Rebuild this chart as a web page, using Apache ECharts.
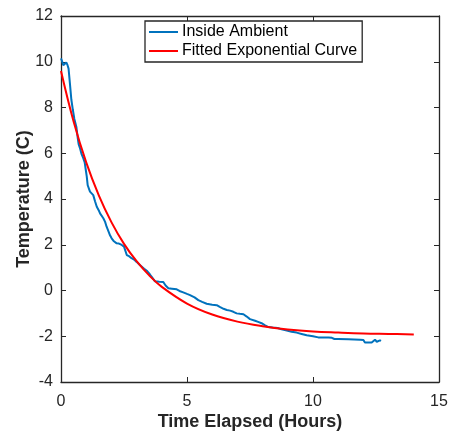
<!DOCTYPE html>
<html><head><meta charset="utf-8">
<script src="https://cdn.jsdelivr.net/npm/echarts@6/dist/echarts.min.js"></script>
<style>html,body{margin:0;padding:0;background:#fff}#c{width:455px;height:433px}</style>
</head><body><div id="c"></div>
<script>
const seriesNames = ['Inside Ambient', 'Fitted Exponential Curve'];
const xTicks = [0, 5, 10, 15];
const yTicks = [-4, -2, 0, 2, 4, 6, 8, 10, 12];
// Inside Ambient: [hours, temperature C]
const insideAmbient = [
[0,10.15],[0.05,10.0],[0.09,9.85],[0.15,9.92],[0.21,9.97],[0.26,9.85],[0.3,9.7],[0.35,9.1],[0.41,8.35],[0.47,7.9],
[0.53,7.5],[0.61,7.15],[0.66,6.7],[0.7,6.4],[0.76,6.2],[0.82,5.95],[0.88,5.8],[0.94,5.6],[0.98,5.3],[1.02,5.0],
[1.06,4.6],[1.15,4.32],[1.22,4.25],[1.28,4.17],[1.35,3.9],[1.42,3.66],[1.5,3.5],[1.55,3.37],[1.62,3.3],[1.68,3.16],
[1.75,3.0],[1.81,2.79],[1.88,2.6],[1.95,2.4],[2.01,2.28],[2.1,2.15],[2.21,2.06],[2.3,2.05],[2.41,1.99],[2.5,1.92],
[2.54,1.84],[2.61,1.55],[2.7,1.5],[2.8,1.41],[2.9,1.35],[3.0,1.25],[3.14,1.1],[3.3,0.95],[3.42,0.85],[3.53,0.7],
[3.6,0.6],[3.73,0.4],[3.9,0.38],[4.06,0.37],[4.15,0.22],[4.26,0.1],[4.4,0.08],[4.59,0.05],[4.7,-0.02],[4.85,-0.08],
[5.0,-0.15],[5.12,-0.2],[5.3,-0.3],[5.45,-0.42],[5.6,-0.5],[5.78,-0.58],[6.0,-0.62],[6.18,-0.64],[6.3,-0.72],[6.45,-0.8],
[6.58,-0.85],[6.71,-0.88],[6.84,-0.93],[6.97,-1.0],[7.1,-1.02],[7.24,-1.04],[7.3,-1.0],[7.37,-1.14],[7.5,-1.25],[7.7,-1.32],
[7.85,-1.38],[7.96,-1.43],[8.1,-1.52],[8.23,-1.6],[8.4,-1.62],[8.6,-1.64],[8.75,-1.7],[8.96,-1.75],[9.15,-1.8],[9.35,-1.84],
[9.55,-1.9],[9.75,-1.96],[10.0,-2.0],[10.21,-2.05],[10.45,-2.06],[10.61,-2.05],[10.67,-2.13],[10.75,-2.07],[10.85,-2.12],[11.0,-2.12],
[11.4,-2.13],[11.87,-2.15],[12.0,-2.16],[12.06,-2.27],[12.2,-2.27],[12.33,-2.27],[12.4,-2.2],[12.46,-2.15],[12.53,-2.24],[12.6,-2.2],
[12.66,-2.18],[12.7,-2.2]
];
// Fitted curve
const fitX = [0,0.5,1,1.5,2,2.5,3,3.5,4,5,6,7,8,9,10,11,12,13,14];
const fitY = [9.6,7.39,5.6,4.16,2.99,2.04,1.28,0.66,0.16,-0.57,-1.05,-1.36,-1.56,-1.7,-1.79,-1.84,-1.88,-1.9,-1.92];

const FONT = '"Liberation Sans", Arial, sans-serif';
const AX = '#262626';
const fitData = fitX.map((x, i) => [x, fitY[i]]);

const baseAxis = {
  axisLine: { show: true, onZero: false, lineStyle: { color: AX, width: 1.3 } },
  axisTick: { show: true, inside: true, length: 5, lineStyle: { color: AX, width: 1 } },
  splitLine: { show: false },
  axisLabel: { color: AX, fontSize: 16, fontFamily: FONT, margin: 9 },
};
const chart = echarts.init(document.getElementById('c'), null, { renderer: 'canvas' });
chart.setOption({
  animation: false,
  backgroundColor: '#fff',
  grid: { left: 61, right: 16, top: 16, bottom: 51, containLabel: false, outerBoundsMode: 'none' },
  legend: {
    left: 145, top: 21, orient: 'vertical',
    data: seriesNames,
    icon: 'rect', itemWidth: 29, itemHeight: 2, itemGap: 3,
    padding: [3, 5, 3, 4],
    borderColor: AX, borderWidth: 1.3, backgroundColor: '#fff',
    textStyle: { fontSize: 16, fontFamily: FONT, color: '#000', padding: [0, 0, 0, -1] },
  },
  xAxis: [
    Object.assign({}, baseAxis, {
      type: 'value', min: 0, max: 15, interval: 5,
      name: 'Time Elapsed (Hours)', nameLocation: 'middle', nameGap: 31, nameMoveOverlap: false,
      nameTextStyle: { fontSize: 18, fontWeight: 'bold', fontFamily: FONT, color: AX },
      axisLabel: Object.assign({}, baseAxis.axisLabel, { margin: 12, formatter: v => xTicks.includes(v) ? String(v) : '' })
    }),
    Object.assign({}, baseAxis, {
      type: 'value', min: 0, max: 15, interval: 5, position: 'top',
      axisLabel: { show: false }
    })
  ],
  yAxis: [
    Object.assign({}, baseAxis, {
      type: 'value', min: -4, max: 12, interval: 2,
      name: 'Temperature (C)', nameLocation: 'middle', nameGap: 28, nameMoveOverlap: false,
      nameTextStyle: { fontSize: 18, fontWeight: 'bold', fontFamily: FONT, color: AX },
      axisLabel: Object.assign({}, baseAxis.axisLabel, { margin: 8, formatter: v => yTicks.includes(v) ? String(v) : '' })
    }),
    Object.assign({}, baseAxis, {
      type: 'value', min: -4, max: 12, interval: 2, position: 'right',
      axisLabel: { show: false }
    })
  ],
  series: [
    { name: seriesNames[0], type: 'line', data: insideAmbient, showSymbol: false, symbol: 'none',
      lineStyle: { color: '#0072BD', width: 2 }, itemStyle: { color: '#0072BD' }, z: 2 },
    { name: seriesNames[1], type: 'line', data: fitData, smooth: 0.4, showSymbol: false, symbol: 'none',
      lineStyle: { color: '#FF0000', width: 2 }, itemStyle: { color: '#FF0000' }, z: 3 }
  ]
});
</script></body></html>
